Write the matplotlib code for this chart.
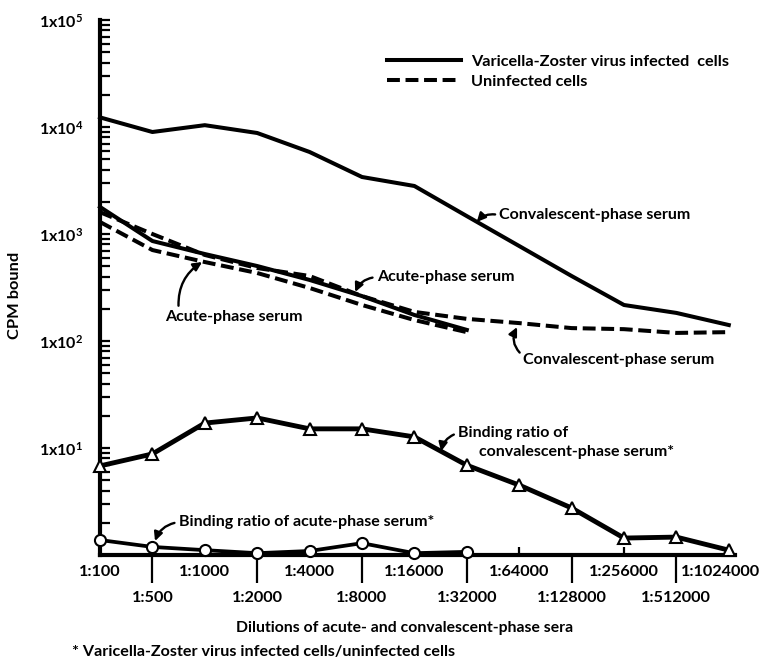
import numpy as np
import matplotlib
matplotlib.use("Agg")
import matplotlib.pyplot as plt
from matplotlib.lines import Line2D
from matplotlib.transforms import ScaledTranslation
from matplotlib.ticker import LogLocator, FixedLocator, FuncFormatter, NullFormatter

plt.rcParams['font.family'] = ['Lato', 'DejaVu Sans']
plt.rcParams['font.weight'] = 'bold'
plt.rcParams['mathtext.fontset'] = 'custom'
plt.rcParams['mathtext.rm'] = 'Lato:bold'
plt.rcParams['mathtext.it'] = 'Lato:bold'
plt.rcParams['mathtext.bf'] = 'Lato:bold'
plt.rcParams['mathtext.default'] = 'rm'

# dilution categories (x axis)
dilutions = ['1:100', '1:500', '1:1000', '1:2000', '1:4000', '1:8000', '1:16000',
             '1:32000', '1:64000', '1:128000', '1:256000', '1:512000', '1:1024000']

# CPM bound, convalescent-phase serum
conv_vzv = [12300, 8980, 10400, 8790, 5840, 3410, 2810, 1470, 772, 405, 217, 183, 141]
conv_uninf = [1600, 1000, 637, 481, 405, 263, 187, 161, 147, 132, 129, 119, 121]

# CPM bound, acute-phase serum (only to 1:32000)
acute_vzv = [1790, 860, 650, 502, 372, 263, 175, 127]
acute_uninf = [1295, 708, 547, 432, 313, 217, 157, 121]

# binding ratios (VZV infected / uninfected)
ratio_conv = [6.8, 8.8, 17.1, 19.1, 15.1, 15.1, 12.7, 6.9, 4.5, 2.75, 1.44, 1.47, 1.11]
ratio_acute = [1.38, 1.19, 1.11, 1.04, 1.09, 1.29, 1.04, 1.07]

W, H = 765, 663
fig = plt.figure(figsize=(W / 100, H / 100), dpi=100)
ax = fig.add_axes([100 / W, 108 / H, 635 / W, 535 / H])

x_all = np.arange(len(dilutions))
x_acute = np.arange(len(acute_vzv))

line_kw = dict(color='black', lw=2.9, clip_on=False)
dash = (0, (3.2, 1.4))

ax.plot(x_all, conv_vzv, ls='-', **line_kw)
ax.plot(x_all, conv_uninf, ls=dash, **line_kw)
ax.plot(x_acute, acute_vzv, ls='-', **line_kw)
ax.plot(x_acute, acute_uninf, ls=dash, **line_kw)

ax.plot(x_all, ratio_conv, color='black', lw=3.5, marker='^', markersize=9,
        markerfacecolor='white', markeredgecolor='black', markeredgewidth=1.5,
        clip_on=False, zorder=4)
ax.plot(x_acute, ratio_acute, color='black', lw=2.7, marker='o', markersize=8,
        markerfacecolor='white', markeredgecolor='black', markeredgewidth=1.5,
        clip_on=False, zorder=4)

ax.set_yscale('log')
ax.set_ylim(1, 1e5)
ax.set_xlim(0, 635 / 52.4)

for side in ['top', 'right']:
    ax.spines[side].set_visible(False)
for side in ['left', 'bottom']:
    ax.spines[side].set_linewidth(3)

# y ticks
ax.yaxis.set_major_locator(FixedLocator([1e1, 1e2, 1e3, 1e4, 1e5]))
ax.yaxis.set_minor_locator(LogLocator(base=10, subs=np.arange(2, 10)))
ax.yaxis.set_major_formatter(FuncFormatter(lambda v, p: '1x10$^{%d}$' % round(np.log10(v))))
ax.yaxis.set_minor_formatter(NullFormatter())
ax.tick_params(axis='y', which='both', direction='in', length=7, width=1.6,
               pad=12, labelsize=11.5)

# x ticks: odd dilutions on lower row with long ticks, even on upper row
odd = x_all[1::2]
even = x_all[0::2]
ax.set_xticks(odd, [dilutions[i] for i in odd])
ax.set_xticks(even, [dilutions[i] for i in even], minor=True)
ax.tick_params(axis='x', which='major', direction='out', length=20, width=1.6,
               pad=6, labelsize=11.7)
ax.tick_params(axis='x', which='minor', direction='in', length=6, width=1.6,
               pad=7, labelsize=11.7)
# the last label sits a little left of its tick, as in the original
last = ax.xaxis.get_minorticklabels()[-1]
last.set_transform(last.get_transform() + ScaledTranslation(-6 / 72, 0, fig.dpi_scale_trans))

fs = 11.5
arrow = dict(arrowstyle='-|>,head_length=0.45,head_width=0.22', color='black', lw=1.7,
             shrinkA=1, shrinkB=0)

ax.annotate('Convalescent-phase serum', xy=(7.19, 1295), xytext=(7.62, 1500),
            fontsize=fs, ha='left', va='center',
            arrowprops=dict(arrow, connectionstyle='arc3,rad=0.3', relpos=(0, 0.5)))
ax.annotate('Acute-phase serum', xy=(4.87, 287), xytext=(5.28, 396),
            fontsize=fs, ha='left', va='center',
            arrowprops=dict(arrow, connectionstyle='arc3,rad=0.3', relpos=(0, 0.5)))
ax.annotate('Acute-phase serum', xy=(1.95, 547), xytext=(1.24, 168),
            fontsize=fs, ha='left', va='center',
            arrowprops=dict(arrow, connectionstyle='arc3,rad=-0.3', relpos=(0.1, 1.0)))
ax.annotate('Convalescent-phase serum', xy=(7.96, 135), xytext=(8.08, 66),
            fontsize=fs, ha='left', va='center',
            arrowprops=dict(arrow, connectionstyle='arc3,rad=-0.4', relpos=(0, 0.8)))
ax.annotate('Binding ratio of', xy=(6.51, 9.3), xytext=(6.83, 13.8),
            fontsize=fs, ha='left', va='center',
            arrowprops=dict(arrow, connectionstyle='arc3,rad=0.3', relpos=(0, 0.5)))
ax.text(7.23, 9.2, 'convalescent-phase serum*', fontsize=fs, ha='left', va='center')
ax.annotate('Binding ratio of acute-phase serum*', xy=(1.05, 1.35), xytext=(1.5, 2.03),
            fontsize=fs, ha='left', va='center',
            arrowprops=dict(arrow, connectionstyle='arc3,rad=0.3', relpos=(0, 0.5)))

handles = [Line2D([], [], color='black', lw=2.9),
           Line2D([], [], color='black', lw=2.9, ls=dash)]
ax.legend(handles, ['Varicella-Zoster virus infected  cells', 'Uninfected cells'],
          loc='upper left', bbox_to_anchor=(372 / W, 1 - 40 / H),
          bbox_transform=fig.transFigure, frameon=False, fontsize=11.7,
          handlelength=4.6, handletextpad=0.6, labelspacing=0.35)

fig.text(15 / W, 1 - 295 / H, 'CPM bound', rotation=90, ha='center', va='center',
         fontsize=11.8)
fig.text(405 / W, 1 - 628 / H, 'Dilutions of acute- and convalescent-phase sera',
         ha='center', va='center', fontsize=11.3)
fig.text(72 / W, 1 - 652 / H, '* Varicella-Zoster virus infected cells/uninfected cells',
         ha='left', va='center', fontsize=11.6)

fig.savefig('out.png', dpi=100)
